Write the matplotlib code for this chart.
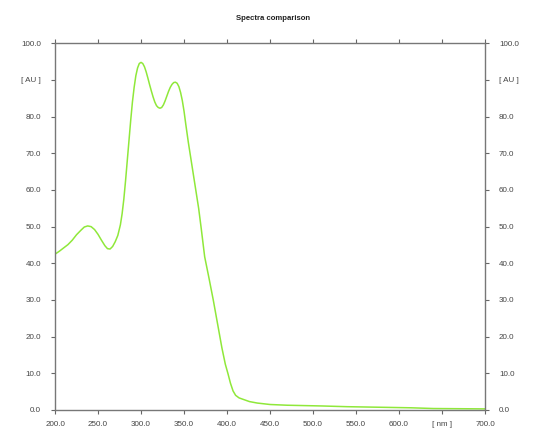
import matplotlib
matplotlib.use("Agg")
import matplotlib.pyplot as plt

# Spectre (longueur d'onde en nm, absorbance en AU)
wavelength = [200, 205, 210, 215, 220, 225, 230, 234, 238, 242, 246, 250, 254, 258,
              261, 264, 267, 270, 273, 276, 278, 280, 282, 284, 286, 288, 290, 292,
              294, 296, 298, 300, 302, 304, 306, 308, 310, 312, 314, 316, 318, 320,
              322, 324, 326, 328, 330, 332, 334, 336, 338, 340, 342, 344, 346, 348,
              350, 352, 355, 358, 361, 364, 367, 370, 374, 379, 384, 389, 394, 398,
              401, 404, 407, 410, 414, 420, 426, 435, 450, 470, 490, 510, 540, 565,
              590, 614, 640, 670, 700]
absorbance = [42.5, 43.3, 44.2, 45.1, 46.3, 47.8, 49.0, 49.9, 50.2, 50.0, 49.2, 47.9, 46.3, 44.8,
              44.0, 43.9, 44.6, 45.9, 47.6, 50.5, 53.5, 57.5, 62.5, 68.0, 73.5, 79.0, 84.0, 88.0,
              91.2, 93.3, 94.5, 94.8, 94.5, 93.6, 92.2, 90.5, 88.7, 87.0, 85.4, 84.0, 83.0, 82.5,
              82.3, 82.5, 83.2, 84.3, 85.6, 86.9, 88.0, 88.8, 89.3, 89.4, 89.1, 88.2, 86.6, 84.4,
              81.5, 78.0, 73.0, 68.5, 64.0, 59.5, 55.0, 49.5, 41.8, 36.0, 30.0, 23.5, 17.0, 12.5,
              10.0, 7.3, 5.2, 4.0, 3.3, 2.8, 2.3, 1.9, 1.5, 1.3, 1.2, 1.1, 0.9, 0.8,
              0.7, 0.6, 0.4, 0.35, 0.3]

x_ticks = [200, 250, 300, 350, 400, 450, 500, 550, 600, 650, 700]
x_labels = ["200.0", "250.0", "300.0", "350.0", "400.0", "450.0", "500.0",
            "550.0", "600.0", "[ nm ]", "700.0"]
y_ticks = [0, 10, 20, 30, 40, 50, 60, 70, 80, 90, 100]
y_labels = ["0.0", "10.0", "20.0", "30.0", "40.0", "50.0", "60.0", "70.0",
            "80.0", "[ AU ]", "100.0"]

plt.rcParams["font.family"] = ["Liberation Sans", "DejaVu Sans"]

fig = plt.figure(figsize=(5.40, 4.43), dpi=100)
ax = fig.add_axes([0.1019, 0.0745, 0.7963, 0.8277])

ax.plot(wavelength, absorbance, color="#8fe83a", linewidth=1.1)

ax.set_xlim(200, 700)
ax.set_ylim(0, 100)
ax.set_xticks(x_ticks)
ax.set_xticklabels(x_labels)
ax.set_yticks(y_ticks)
ax.set_yticklabels(y_labels)

ax.tick_params(axis="both", direction="out", length=3, width=0.8, color="#666666",
               labelsize=5.8, labelcolor="#444444",
               top=True, right=True, labelright=True)
ax.tick_params(axis="y", pad=7)
ax.tick_params(axis="x", pad=5)
for s in ax.spines.values():
    s.set_color("#777777")
    s.set_linewidth(1.0)

fig.text(0.505, 0.959, "Spectra comparison", ha="center", va="center",
         fontsize=5.6, fontweight="bold", color="#222222")

fig.savefig("out.png", dpi=100)
